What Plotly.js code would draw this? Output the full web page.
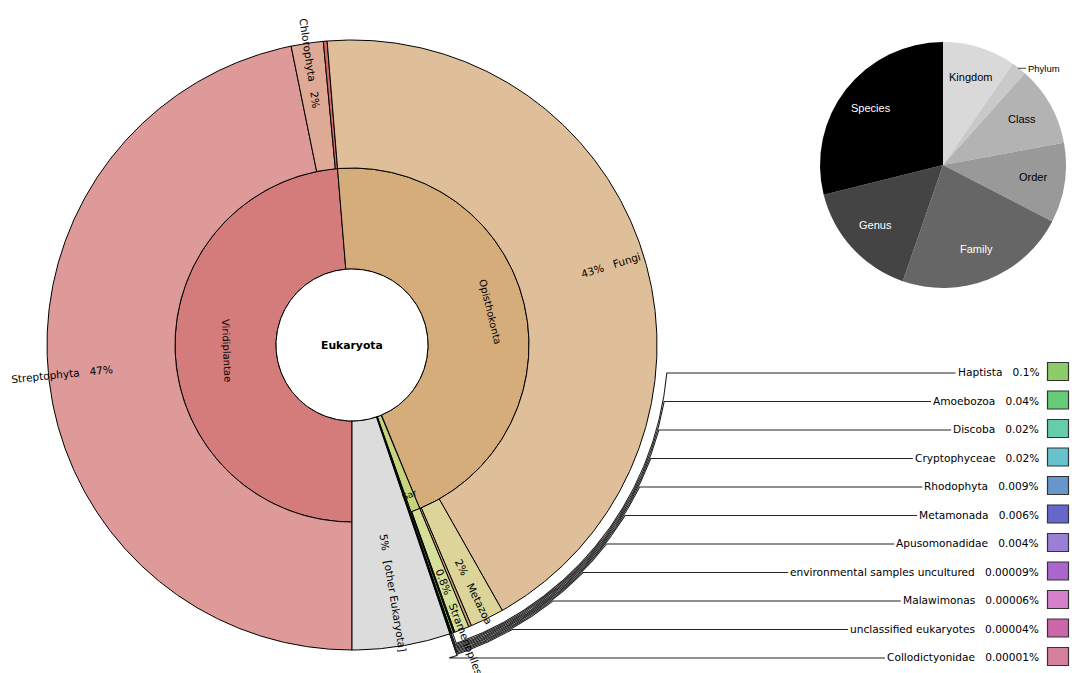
<!DOCTYPE html>
<html><head><meta charset="utf-8">
<script src="https://cdn.plot.ly/plotly-3.0.1.min.js"></script>
<style>html,body{margin:0;padding:0;background:#fff;} #chart{width:1072px;height:673px;}</style>
</head><body><div id="chart"></div>
<script>
// ---------------- DATA ----------------
const rootName = 'Eukaryota';
const level1Names = ['Viridiplantae', 'Opisthokonta', 'Sar'];
const viridiNames = ['Streptophyta', 'Chlorophyta', '[other Viridiplantae]'];
const viridiValues = [46.8, 1.7, 0.2];
const viridiPct = ['47%', '2%', ''];
const opisthoNames = ['Fungi', 'Metazoa', '[other Opisthokonta]'];
const opisthoValues = [43.1, 1.8, 0.15];
const opisthoPct = ['43%', '2%', ''];
const sarNames = ['Stramenopiles', 'Alveolata', 'Rhizaria'];
const sarValues = [0.78, 0.05, 0.02];
const sarPct = ['0.8%', '', ''];
const keyNames = ['Haptista', 'Amoebozoa', 'Discoba', 'Cryptophyceae', 'Rhodophyta', 'Metamonada',
  'Apusomonadidae', 'environmental samples uncultured', 'Malawimonas', 'unclassified eukaryotes', 'Collodictyonidae'];
const keyValues = [0.1, 0.04, 0.02, 0.02, 0.009, 0.006, 0.004, 0.00009, 0.00006, 0.00004, 0.00001];
const keyPct = ['0.1%', '0.04%', '0.02%', '0.02%', '0.009%', '0.006%', '0.004%', '0.00009%', '0.00006%', '0.00004%', '0.00001%'];
const otherName = '[other Eukaryota]';
const otherValue = 5.2;
const otherPct = '5%';
const rankNames = ['Kingdom', 'Phylum', 'Class', 'Order', 'Family', 'Genus', 'Species'];
const rankValues = [9.6, 2.0, 10.5, 10.5, 22.7, 15.8, 28.9];

// ---------------- STYLE ----------------
const level1Colors = ['rgb(212,123,123)', 'rgb(212,173,123)', 'rgb(200,212,123)'];
const viridiColors = ['rgb(222,153,153)', 'rgb(222,170,150)', 'rgb(212,105,105)'];
const opisthoColors = ['rgb(222,191,153)', 'rgb(220,212,153)', 'rgb(212,160,112)'];
const sarColors = ['rgb(214,222,153)', 'rgb(190,222,150)', 'rgb(170,214,140)'];
const keyColors = ['rgb(141,204,102)', 'rgb(102,204,119)', 'rgb(102,204,170)', 'rgb(102,194,204)', 'rgb(102,150,204)',
  'rgb(102,102,204)', 'rgb(153,128,214)', 'rgb(170,102,204)', 'rgb(214,128,204)', 'rgb(204,102,170)', 'rgb(214,128,158)'];
const otherColor = 'rgb(220,220,220)';
const rankColors = ['#d9d9d9', '#c9c9c9', '#b3b3b3', '#999999', '#666666', '#444444', '#000000'];
const rankText = ['#000', '#000', '#000', '#000', '#fff', '#fff', '#fff'];

const W = 1072, H = 673;
const CX = 352, CY = 345, R0 = 76, R1 = 177, R2 = 305;
const START = 180;          // clockwise degrees from 12 o'clock
const FONT = '"DejaVu Sans", Verdana, sans-serif';
const PIE = {cx: 943, cy: 165, r: 123};
const KEY = {y0: 373, dy: 28.5, textRight: 1041, boxX0: 1047.5, boxX1: 1068.5, arcR0: 316, arcStep: 1.17, font: 10.6};

// ---------------- HELPERS ----------------
const DEG = Math.PI / 180;
const ctx = document.createElement('canvas').getContext('2d');
function tw(s, size, weight) { ctx.font = (weight || 'normal') + ' ' + size + 'px "DejaVu Sans"'; return ctx.measureText(s).width; }
function pt(th, r) { return [CX + r * Math.sin(th * DEG), CY - r * Math.cos(th * DEG)]; }
function arc(a0, a1, r, xs, ys) {
  const n = Math.max(2, Math.ceil(Math.abs(a1 - a0) / 0.4));
  for (let i = 0; i <= n; i++) { const p = pt(a0 + (a1 - a0) * i / n, r); xs.push(p[0]); ys.push(p[1]); }
}
const traces = [];
function wedge(a0, a1, ri, ro, color) {
  const xs = [], ys = [];
  arc(a0, a1, ro, xs, ys); arc(a1, a0, ri, xs, ys); xs.push(xs[0]); ys.push(ys[0]);
  traces.push({type: 'scatter', mode: 'lines', x: xs, y: ys, fill: 'toself', fillcolor: color,
    line: {color: '#000', width: 1}, hoverinfo: 'skip', showlegend: false});
}
const annotations = [];
function label(x, y, text, size, angle, opts) {
  annotations.push(Object.assign({x: x, y: y, xref: 'x', yref: 'y', text: text, showarrow: false,
    textangle: angle || 0, xanchor: 'center', yanchor: 'middle',
    font: {family: FONT, size: size, color: '#000'}}, opts || {}));
}
function norm(a) { return ((a % 360) + 360) % 360; }
function radialLabel(th, r0, text, size) {
  const a = norm(th);
  const w = tw(text, size);
  const p = pt(th, r0 + w / 2);
  const ang = (a > 0 && a < 180) ? a - 90 : a - 270;
  label(p[0], p[1], text, size, ang);
}
function tangentialLabel(th, r, text, size) {
  let a = norm(th);
  if (a > 90 && a <= 270) a -= 180; else if (a > 270) a -= 360;
  const p = pt(th, r);
  label(p[0], p[1], text, size, a);
}
const SP = '\u00a0\u00a0\u00a0';

// ---------------- MAIN CHART ----------------
const groups = [
  {names: viridiNames, values: viridiValues, colors: viridiColors, pct: viridiPct, name: level1Names[0], color: level1Colors[0]},
  {names: opisthoNames, values: opisthoValues, colors: opisthoColors, pct: opisthoPct, name: level1Names[1], color: level1Colors[1]},
  {names: sarNames, values: sarValues, colors: sarColors, pct: sarPct, name: level1Names[2], color: level1Colors[2]}
];
const sum = a => a.reduce((s, v) => s + v, 0);
const total = groups.reduce((s, g) => s + sum(g.values), 0) + sum(keyValues) + otherValue;
const scale = 360 / total;

let ang = START;
const groupLabelR = [125, 142, 161];
const groupLabelSize = [10, 10, 9];
groups.forEach((g, gi) => {
  const a0 = ang, a1 = ang + sum(g.values) * scale;
  wedge(a0, a1, R0, R1, g.color);
  let b = a0;
  g.values.forEach((v, i) => {
    const b1 = b + v * scale;
    wedge(b, b1, R1, R2, g.colors[i]);
    if (g.pct[i]) {
      const mid = (b + b1) / 2, a = norm(mid);
      const txt = (a > 0 && a < 180) ? g.pct[i] + SP + g.names[i] : g.names[i] + SP + g.pct[i];
      radialLabel(mid, 240, txt, 10.5);
    }
    b = b1;
  });
  tangentialLabel((a0 + a1) / 2, groupLabelR[gi], g.name, groupLabelSize[gi]);
  ang = a1;
});
const keyMid = [];
keyValues.forEach((v, i) => {
  const a1 = ang + v * scale;
  wedge(ang, a1, R0, R2, keyColors[i]);
  keyMid.push(norm((ang + a1) / 2));
  ang = a1;
});
{
  const a1 = ang + otherValue * scale;
  wedge(ang, a1, R0, R2, otherColor);
  radialLabel((ang + a1) / 2, 192, otherPct + SP + otherName, 10.5);
  ang = a1;
}
// center circle
{
  const xs = [], ys = [];
  arc(0, 360, R0, xs, ys);
  traces.push({type: 'scatter', mode: 'lines', x: xs, y: ys, fill: 'toself', fillcolor: '#fff',
    line: {color: '#000', width: 1}, hoverinfo: 'skip', showlegend: false});
  label(CX, CY, '<b>' + rootName + '</b>', 10.8, 0);
}

// ---------------- KEYS ----------------
const shapes = [];
keyNames.forEach((n, i) => {
  const y = KEY.y0 + i * KEY.dy;
  const txt = n + SP + keyPct[i];
  const w = tw(txt, KEY.font);
  label(KEY.textRight, y - 1, txt, KEY.font, 0, {xanchor: 'right'});
  shapes.push({type: 'rect', xref: 'x', yref: 'y', x0: KEY.boxX0, x1: KEY.boxX1, y0: y - 10.5, y1: y + 7.5,
    fillcolor: keyColors[i], line: {color: '#333', width: 1.2}});
  const r = KEY.arcR0 + i * KEY.arcStep;
  const dy = y - CY;
  const xs0 = CX + Math.sqrt(Math.max(0, r * r - dy * dy));
  const ths = norm(Math.atan2(xs0 - CX, -dy) / DEG);
  const xs = [KEY.textRight - w - 4, xs0], ys = [y, y];
  arc(ths, keyMid[i], r, xs, ys);
  const p = pt(keyMid[i], R2);
  xs.push(p[0]); ys.push(p[1]);
  traces.push({type: 'scatter', mode: 'lines', x: xs, y: ys, line: {color: '#222', width: 1.1},
    hoverinfo: 'skip', showlegend: false});
});

// ---------------- RANK PIE ----------------
traces.push({
  type: 'pie', labels: rankNames, values: rankValues, sort: false, direction: 'clockwise', rotation: 0,
  marker: {colors: rankColors, line: {width: 0}}, textinfo: 'none', hoverinfo: 'skip',
  domain: {x: [(PIE.cx - PIE.r) / W, (PIE.cx + PIE.r) / W], y: [1 - (PIE.cy + PIE.r) / H, 1 - (PIE.cy - PIE.r) / H]},
  showlegend: false
});
{
  const tot = sum(rankValues);
  let a = 0;
  rankValues.forEach((v, i) => {
    const a1 = a + v / tot * 360, mid = (a + a1) / 2;
    const sx = Math.sin(mid * DEG), cy = Math.cos(mid * DEG);
    if (rankNames[i] === 'Phylum') {
      const ex = PIE.cx + PIE.r * sx, ey = PIE.cy - PIE.r * cy;
      shapes.push({type: 'line', xref: 'x', yref: 'y', x0: ex - 1, x1: ex + 7, y0: ey, y1: ey, line: {color: '#444', width: 1}});
      annotations.push({x: ex + 7, y: ey, xref: 'x', yref: 'y', text: rankNames[i], showarrow: false,
        xanchor: 'left', yanchor: 'middle', font: {family: '"Liberation Sans", Arial, sans-serif', size: 9.5, color: '#000'}});
    } else {
      const rr = PIE.r * 0.74;
      annotations.push({x: PIE.cx + rr * sx, y: PIE.cy - rr * cy - 1, xref: 'x', yref: 'y', text: rankNames[i], showarrow: false,
        xanchor: 'center', yanchor: 'middle', font: {family: '"Liberation Sans", Arial, sans-serif', size: 11, color: rankText[i]}});
    }
    a = a1;
  });
}

const layout = {
  width: W, height: H, margin: {l: 0, r: 0, t: 0, b: 0},
  paper_bgcolor: '#fff', plot_bgcolor: '#fff', showlegend: false,
  xaxis: {range: [0, W], visible: false, fixedrange: true},
  yaxis: {range: [H, 0], visible: false, fixedrange: true},
  annotations: annotations, shapes: shapes, hovermode: false
};
Plotly.newPlot('chart', traces, layout, {staticPlot: true, displayModeBar: false});
</script></body></html>
